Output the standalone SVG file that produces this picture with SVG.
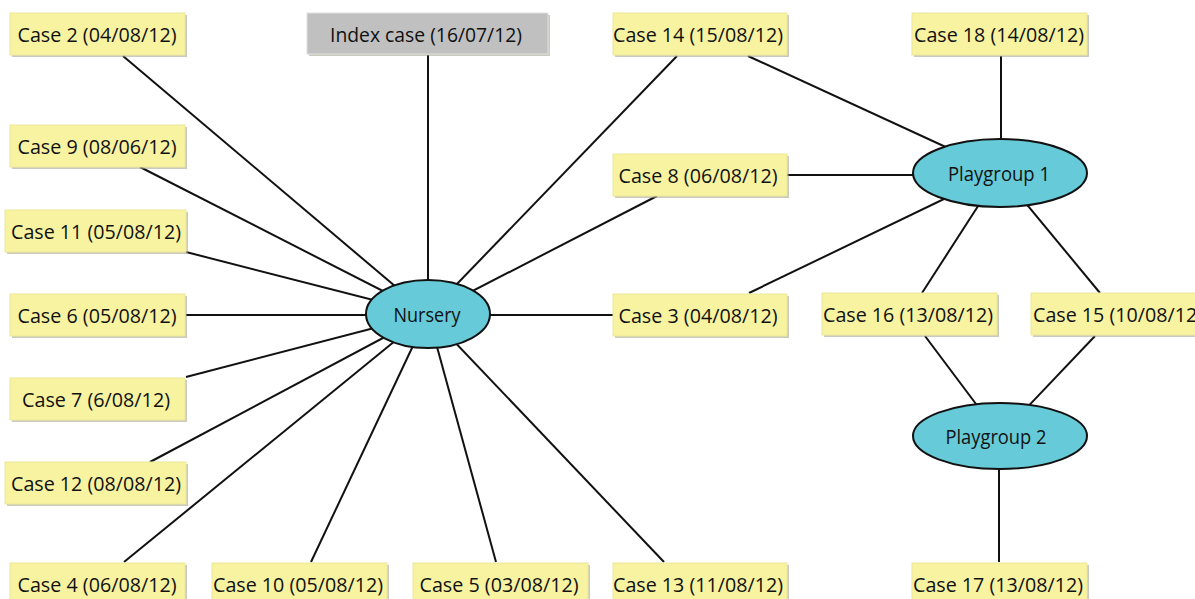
<svg xmlns="http://www.w3.org/2000/svg" width="1195" height="599" viewBox="0 0 1195 599">
<style>
.bg{fill:#ffffff}
.sh{fill:#9e9e8a;opacity:.55}
.box{fill:#f7f3a1;stroke:#ecE89a;stroke-width:1}
.idx{fill:#c0c0c0;stroke:#e0e0e0;stroke-width:1}
.ell{fill:#66cad8;stroke:#111;stroke-width:2}
.t{font-family:"Open Sans","Noto Sans","Liberation Sans",sans-serif;font-size:19.5px;fill:#111;text-anchor:middle}
.c line{stroke:#111;stroke-width:2}
</style>
<rect class="bg" x="0" y="0" width="1195" height="599"/>
<g class="c" id="connectors">
<line x1="123" y1="56" x2="428" y2="314"/>
<line x1="428" y1="55" x2="428" y2="314"/>
<line x1="677" y1="56" x2="428" y2="314"/>
<line x1="748" y1="56" x2="1000" y2="172"/>
<line x1="1001" y1="56" x2="1001" y2="172"/>
<line x1="140" y1="167" x2="428" y2="314"/>
<line x1="657" y1="196" x2="428" y2="314"/>
<line x1="787" y1="175" x2="1000" y2="175"/>
<line x1="186" y1="252" x2="428" y2="314"/>
<line x1="186" y1="315" x2="428" y2="315"/>
<line x1="428" y1="315" x2="613" y2="315"/>
<line x1="749" y1="293" x2="1000" y2="172"/>
<line x1="922" y1="293" x2="1000" y2="172"/>
<line x1="1100" y1="293" x2="1000" y2="172"/>
<line x1="925" y1="336" x2="1000" y2="436"/>
<line x1="1095" y1="336" x2="1000" y2="436"/>
<line x1="999" y1="436" x2="999" y2="562"/>
<line x1="186" y1="377" x2="428" y2="314"/>
<line x1="150" y1="462" x2="428" y2="314"/>
<line x1="124" y1="562" x2="428" y2="314"/>
<line x1="311" y1="562" x2="428" y2="314"/>
<line x1="496" y1="562" x2="428" y2="314"/>
<line x1="664" y1="562" x2="428" y2="314"/>
</g>
<g id="case2"><rect class="sh" x="12" y="15" width="175" height="42"/><rect class="box" x="10" y="13" width="175" height="42"/><text class="t" x="97" y="41.5" textLength="159" lengthAdjust="spacingAndGlyphs">Case 2 (04/08/12)</text></g>
<g id="index"><rect class="sh" x="309" y="15" width="241" height="41"/><rect class="idx" x="307" y="13" width="241" height="41"/><text class="t" x="426" y="41.5" textLength="192" lengthAdjust="spacingAndGlyphs">Index case (16/07/12)</text></g>
<g id="case14"><rect class="sh" x="615" y="15" width="174" height="42"/><rect class="box" x="613" y="13" width="174" height="42"/><text class="t" x="698" y="41.5" textLength="170" lengthAdjust="spacingAndGlyphs">Case 14 (15/08/12)</text></g>
<g id="case18"><rect class="sh" x="914" y="15" width="175" height="42"/><rect class="box" x="912" y="13" width="175" height="42"/><text class="t" x="999" y="41.5" textLength="170" lengthAdjust="spacingAndGlyphs">Case 18 (14/08/12)</text></g>
<g id="case9"><rect class="sh" x="12" y="127" width="175" height="42"/><rect class="box" x="10" y="125" width="175" height="42"/><text class="t" x="97" y="153.5" textLength="159" lengthAdjust="spacingAndGlyphs">Case 9 (08/06/12)</text></g>
<g id="case8"><rect class="sh" x="615" y="156" width="174" height="42"/><rect class="box" x="613" y="154" width="174" height="42"/><text class="t" x="698" y="182.5" textLength="159" lengthAdjust="spacingAndGlyphs">Case 8 (06/08/12)</text></g>
<g id="case11"><rect class="sh" x="7" y="212" width="181" height="42"/><rect class="box" x="5" y="210" width="181" height="42"/><text class="t" x="96" y="238.5" textLength="170" lengthAdjust="spacingAndGlyphs">Case 11 (05/08/12)</text></g>
<g id="case6"><rect class="sh" x="12" y="296" width="175" height="42"/><rect class="box" x="10" y="294" width="175" height="42"/><text class="t" x="97" y="322.5" textLength="159" lengthAdjust="spacingAndGlyphs">Case 6 (05/08/12)</text></g>
<g id="case3"><rect class="sh" x="615" y="296" width="174" height="42"/><rect class="box" x="613" y="294" width="174" height="42"/><text class="t" x="698" y="322.5" textLength="159" lengthAdjust="spacingAndGlyphs">Case 3 (04/08/12)</text></g>
<g id="case16"><rect class="sh" x="824" y="295" width="175" height="42"/><rect class="box" x="822" y="293" width="175" height="42"/><text class="t" x="908" y="321.5" textLength="170" lengthAdjust="spacingAndGlyphs">Case 16 (13/08/12)</text></g>
<g id="case15"><rect class="sh" x="1033" y="295" width="175" height="42"/><rect class="box" x="1031" y="293" width="175" height="42"/><text class="t" x="1118" y="321.5" textLength="170" lengthAdjust="spacingAndGlyphs">Case 15 (10/08/12)</text></g>
<g id="case7"><rect class="sh" x="12" y="380" width="175" height="42"/><rect class="box" x="10" y="378" width="175" height="42"/><text class="t" x="96" y="406.5" textLength="148" lengthAdjust="spacingAndGlyphs">Case 7 (6/08/12)</text></g>
<g id="case12"><rect class="sh" x="7" y="464" width="181" height="42"/><rect class="box" x="5" y="462" width="181" height="42"/><text class="t" x="96" y="490.5" textLength="170" lengthAdjust="spacingAndGlyphs">Case 12 (08/08/12)</text></g>
<g id="case4"><rect class="sh" x="12" y="565" width="175" height="42"/><rect class="box" x="10" y="563" width="175" height="42"/><text class="t" x="97" y="591.5" textLength="159" lengthAdjust="spacingAndGlyphs">Case 4 (06/08/12)</text></g>
<g id="case10"><rect class="sh" x="214" y="565" width="175" height="42"/><rect class="box" x="212" y="563" width="175" height="42"/><text class="t" x="298" y="591.5" textLength="170" lengthAdjust="spacingAndGlyphs">Case 10 (05/08/12)</text></g>
<g id="case5"><rect class="sh" x="415" y="565" width="175" height="42"/><rect class="box" x="413" y="563" width="175" height="42"/><text class="t" x="499" y="591.5" textLength="159" lengthAdjust="spacingAndGlyphs">Case 5 (03/08/12)</text></g>
<g id="case13"><rect class="sh" x="615" y="565" width="174" height="42"/><rect class="box" x="613" y="563" width="174" height="42"/><text class="t" x="698" y="591.5" textLength="170" lengthAdjust="spacingAndGlyphs">Case 13 (11/08/12)</text></g>
<g id="case17"><rect class="sh" x="914" y="565" width="175" height="42"/><rect class="box" x="912" y="563" width="175" height="42"/><text class="t" x="998" y="591.5" textLength="170" lengthAdjust="spacingAndGlyphs">Case 17 (13/08/12)</text></g>
<g id="nursery"><ellipse class="ell" cx="428" cy="314" rx="62" ry="34"/><text class="t" x="427" y="321.5" textLength="67" lengthAdjust="spacingAndGlyphs">Nursery</text></g>
<g id="playgroup1"><ellipse class="ell" cx="1000" cy="173" rx="87" ry="34"/><text class="t" x="999" y="180.5" textLength="102" lengthAdjust="spacingAndGlyphs">Playgroup 1</text></g>
<g id="playgroup2"><ellipse class="ell" cx="1000" cy="436" rx="87" ry="33"/><text class="t" x="996" y="443.5" textLength="101" lengthAdjust="spacingAndGlyphs">Playgroup 2</text></g>
</svg>
